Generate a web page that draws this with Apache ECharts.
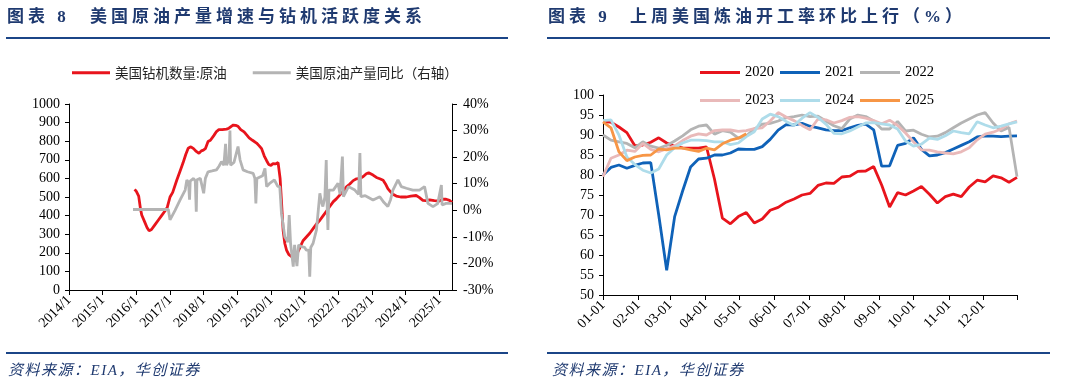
<!DOCTYPE html>
<html><head><meta charset="utf-8">
<script src="https://cdn.jsdelivr.net/npm/echarts@6/dist/echarts.min.js"></script>
<style>
html,body{margin:0;padding:0;background:#fff;width:1066px;height:384px;overflow:hidden;}
#chart{position:absolute;left:0;top:0;width:1066px;height:384px;}
.t{position:absolute;font-family:'Liberation Serif','Noto Sans CJK SC',serif;font-weight:bold;color:#1F3A70;font-size:17px;letter-spacing:4px;white-space:nowrap;line-height:20px;}
.rule{position:absolute;height:2px;background:#1B4587;}
.src{position:absolute;font-family:'Liberation Serif','Noto Sans CJK SC',serif;font-style:italic;color:#1F3A70;font-size:15px;letter-spacing:1.5px;white-space:nowrap;line-height:18px;}
</style></head><body>
<div id="chart"></div>
<div class="t" style="left:7px;top:7px">图表 8</div>
<div class="t" style="left:90px;top:7px">美国原油产量增速与钻机活跃度关系</div>
<div class="t" style="left:548px;top:7px">图表 9</div>
<div class="t" style="left:630px;top:7px">上周美国炼油开工率环比上行（%）</div>
<div class="rule" style="left:6px;top:37px;width:502px"></div>
<div class="rule" style="left:547px;top:37px;width:503px"></div>
<div class="rule" style="left:6px;top:352px;width:502px"></div>
<div class="rule" style="left:547px;top:352px;width:503px"></div>
<div class="src" style="left:8px;top:361px">资料来源：EIA，华创证券</div>
<div class="src" style="left:552px;top:361px">资料来源：EIA，华创证券</div>
<script>
// ---------- Chart 8 data ----------
const rigYears = [2015.95,2016.0,2016.07,2016.12,2016.16,2016.25,2016.32,2016.38,2016.45,2016.55,2016.65,2016.75,2016.85,2016.92,2017.0,2017.08,2017.2,2017.3,2017.39,2017.47,2017.54,2017.62,2017.7,2017.78,2017.86,2017.93,2017.99,2018.05,2018.13,2018.2,2018.3,2018.38,2018.45,2018.55,2018.68,2018.75,2018.82,2018.88,2018.95,2019.02,2019.1,2019.2,2019.27,2019.35,2019.45,2019.57,2019.65,2019.72,2019.8,2019.87,2019.93,2020.0,2020.06,2020.13,2020.21,2020.24,2020.27,2020.31,2020.36,2020.41,2020.46,2020.53,2020.61,2020.68,2020.76,2020.85,2020.95,2021.05,2021.15,2021.25,2021.35,2021.45,2021.55,2021.65,2021.75,2021.85,2021.94,2022.04,2022.14,2022.24,2022.34,2022.44,2022.54,2022.64,2022.74,2022.83,2022.9,2022.95,2023.03,2023.13,2023.23,2023.33,2023.4,2023.47,2023.55,2023.62,2023.72,2023.85,2024.02,2024.15,2024.31,2024.4,2024.51,2024.6,2024.71,2024.85,2025.0,2025.1,2025.2,2025.3,2025.375];
const rigCounts = [541,530,505,440,403,365,335,318,325,350,375,400,425,445,500,525,590,640,685,730,762,770,760,745,735,748,752,760,798,805,830,852,862,862,865,870,880,887,885,880,862,850,835,818,805,790,775,760,720,695,675,670,680,678,685,675,600,480,320,250,215,190,180,175,190,225,265,285,305,330,355,375,400,425,450,475,490,510,530,555,570,588,598,600,610,625,630,625,618,605,598,590,570,545,528,515,505,500,500,505,508,498,482,480,484,480,478,488,488,482,470];
const prodYears = [2015.9,2016.95,2017.0,2017.05,2017.15,2017.3,2017.45,2017.5,2017.55,2017.58,2017.6,2017.7,2017.75,2017.78,2017.8,2017.9,2017.95,2018.0,2018.05,2018.13,2018.25,2018.38,2018.45,2018.53,2018.6,2018.65,2018.68,2018.75,2018.78,2018.8,2018.9,2019.02,2019.08,2019.17,2019.3,2019.47,2019.52,2019.55,2019.58,2019.62,2019.75,2019.82,2019.87,2019.95,2020.1,2020.2,2020.26,2020.31,2020.41,2020.5,2020.54,2020.58,2020.66,2020.7,2020.74,2020.77,2020.82,2020.9,2021.0,2021.05,2021.12,2021.15,2021.18,2021.25,2021.35,2021.45,2021.5,2021.54,2021.6,2021.64,2021.66,2021.69,2021.72,2021.85,2021.99,2022.05,2022.12,2022.15,2022.3,2022.49,2022.6,2022.64,2022.67,2022.8,2023.03,2023.23,2023.35,2023.47,2023.55,2023.62,2023.77,2023.87,2024.02,2024.21,2024.41,2024.56,2024.66,2024.81,2024.95,2025.06,2025.08,2025.2,2025.375];
const prodYoY = [0.3,0.3,-3.6,-3.0,0,3.9,7.6,11.4,10.5,4,11,12,11,-0.5,11.5,12,11.5,6.4,12,14.5,14.8,15.2,16.5,18.3,17,25,17,19,30,17,18,24,19,15.2,14.5,13.9,12,2.6,12,12.6,13,15.8,8.9,10,11.4,9,8.9,-1.1,-10,-12,-1.8,-12.4,-21.2,-13,-12.4,-21,-13,-13.7,-14,-15,-15,-25,-14,-12.4,-7.4,6.4,3,1.4,5,18.9,5,-7.4,7.6,7.6,10.2,6,20.2,5.1,8.9,7.6,6,21.5,5.1,5.5,3.9,5.1,3,1.4,4,7.6,11.4,8.9,8.3,7.6,7.6,8.9,2.6,1.4,2.5,9.5,2,2.6,2.6];
const leftNames = ['美国钻机数量:原油','美国原油产量同比（右轴）'];

// ---------- Chart 9 data (weekly, week i = day 7*i of year) ----------
const yearNames = ['2020','2021','2022','2023','2024','2025'];
const y2020 = [93.3,93.2,92,90.6,87.3,87.5,88.2,89.3,88,87.2,86.8,86.7,86.7,87,79,69.2,67.8,69.6,70.6,68,69,71.2,71.9,73.2,74,75,75.4,77.4,78,77.9,79.5,79.7,80.9,81,82.1,77.5,72,75.6,75,76,77.1,75.2,73,74.6,75.2,74.6,77,78.7,78.3,79.8,79.3,78.2,79.4];
const y2021 = [80,81.9,82.5,81.7,82.4,83,83.1,70,56.2,69.6,76,82,84,84.2,85,85,85.5,86.5,86.4,86.4,87.1,88.9,91.2,92.6,92.5,92.9,92.2,91.8,91.3,91.1,91.1,91.8,92.4,92.7,91.3,82.2,82.3,87.4,87.9,89.3,86.4,84.8,85,85.6,86.5,87.4,88.3,89.5,89.8,89.7,89.6,89.7,89.8];
const y2022 = [90,88.7,88.3,87.9,86.8,88.3,87.2,86.7,87.4,88.5,89.8,91.3,92.2,92.5,90.2,91.1,90.7,89.2,89.8,91.5,92.7,92.9,93.5,94.3,94.6,95,94.6,94.7,93.5,92.3,91.6,94,95,94.6,93.5,91.5,91.5,93.4,91,91.2,90.2,89.5,89.7,90.6,91.8,93,94,95,95.6,93,91,91.9,79.6];
const y2023 = [79.6,84.2,85,86.2,85.9,87.9,86.4,85.8,86.6,87.3,88.6,89.7,90.3,90,91.1,91.25,91.25,90.9,91.1,91.6,91.8,93.5,95.6,94.5,93.6,92.4,91.3,94,93.8,93,93.6,94.4,94.6,94.2,93.6,92.8,93.7,92.4,90.5,88.3,86.3,86.2,85.8,85.5,85.3,85.8,86.8,88.8,90.2,90.7,91.5,92.8,93.5];
const y2024 = [93.6,93.8,90,84.5,82.6,81.2,80.5,81.5,85,86.8,88,88.7,88.7,88.6,88.3,88.3,87.6,88,89.6,90.8,94,95.2,94.6,93.4,92.4,94.2,95.6,94.4,92.7,90.4,90.3,91,92,93,93.1,92.8,92.5,91.5,88.5,87.2,87.7,89.2,88.9,89.8,91,90.6,90.3,93.3,92.5,91.8,92.2,92.8,93.3];
const y2025 = [93.3,91.8,85.8,83.6,84.5,84.9,85,86.5,86.3,86.7,86.7,86.3,85.9,86.7,86.3,87.8,88.7,89.2,90.3];
const yearColors = ['#E8141C','#0F62B8','#B4B4B4','#E9B9B9','#AEDCEA','#F79646'];

// day-of-year category labels (MM-DD)
const dayCats = [];
for (let i = 0; i < 365; i++) {
  const dt = new Date(Date.UTC(2021, 0, 1 + i));
  dayCats.push(String(dt.getUTCMonth() + 1).padStart(2, '0') + '-' + String(dt.getUTCDate()).padStart(2, '0'));
}
const isMonthStart = (i) => dayCats[i] && dayCats[i].endsWith('-01');

const serif = 'Liberation Serif';
const axisTxt = { fontFamily: serif, fontSize: 14, color: '#000' };
const blackLine = { show: true, lineStyle: { color: '#000', width: 1 } };

const zip = (xs, ys) => xs.map((x, i) => [x, ys[i]]);
const weekly = (arr) => arr.map((v, i) => [dayCats[i * 7], v]);
const yearData = [y2020, y2021, y2022, y2023, y2024, y2025];

const chart = echarts.init(document.getElementById('chart'), null, { renderer: 'canvas' });
chart.setOption({
  animation: false,
  grid: [
    { left: 69, top: 104, width: 383, height: 186 },
    { left: 603, top: 95, width: 414, height: 200 }
  ],
  legend: [
    { left: 67, top: 61, data: leftNames, icon: 'rect', itemWidth: 38, itemHeight: 3, itemGap: 26,
      textStyle: { fontFamily: 'Noto Sans CJK SC', fontSize: 13.5, color: '#222' } },
    { left: 695, top: 60, data: yearNames.slice(0, 3), icon: 'rect', itemWidth: 40, itemHeight: 3, itemGap: 6,
      textStyle: { fontFamily: serif, fontSize: 14.5, color: '#000' } },
    { left: 695, top: 88, data: yearNames.slice(3), icon: 'rect', itemWidth: 40, itemHeight: 3, itemGap: 6,
      textStyle: { fontFamily: serif, fontSize: 14.5, color: '#000' } }
  ],
  xAxis: [
    { type: 'value', gridIndex: 0, min: 2014, max: 2025.375, interval: 1,
      axisLine: blackLine, axisTick: { show: true, inside: false, length: 5, lineStyle: { color: '#000' } },
      splitLine: { show: false },
      axisLabel: Object.assign({ rotate: 45, margin: 8, showMaxLabel: false,
        formatter: (v) => Number.isInteger(v) ? v + '/1' : '' }, axisTxt) },
    { type: 'category', gridIndex: 1, data: dayCats, boundaryGap: false,
      axisLine: blackLine,
      axisTick: { show: true, length: 5, lineStyle: { color: '#000' }, interval: (i) => isMonthStart(i) || i === 364 },
      axisLabel: Object.assign({ rotate: 45, margin: 8, interval: (i) => isMonthStart(i) }, axisTxt) }
  ],
  yAxis: [
    { type: 'value', gridIndex: 0, min: 0, max: 1000, interval: 100,
      axisLine: blackLine, axisTick: { show: true, length: 4, lineStyle: { color: '#000' } },
      splitLine: { show: false }, axisLabel: Object.assign({ margin: 9, formatter: (v) => String(v) }, axisTxt) },
    { type: 'value', gridIndex: 0, position: 'right', min: -30, max: 40, interval: 10,
      axisLine: blackLine, axisTick: { show: true, length: 5, lineStyle: { color: '#000' } },
      splitLine: { show: false }, axisLabel: Object.assign({ margin: 11, formatter: '{value}%' }, axisTxt) },
    { type: 'value', gridIndex: 1, min: 50, max: 100, interval: 5,
      axisLine: blackLine, axisTick: { show: true, length: 4, lineStyle: { color: '#000' } },
      splitLine: { show: false }, axisLabel: Object.assign({ margin: 9 }, axisTxt) }
  ],
  series: [
    { name: leftNames[0], type: 'line', xAxisIndex: 0, yAxisIndex: 0, showSymbol: false,
      data: zip(rigYears, rigCounts), lineStyle: { color: '#E8141C', width: 2.8 }, itemStyle: { color: '#E8141C' } },
    { name: leftNames[1], type: 'line', xAxisIndex: 0, yAxisIndex: 1, showSymbol: false,
      data: zip(prodYears, prodYoY), lineStyle: { color: '#B4B4B4', width: 2.8 }, itemStyle: { color: '#B4B4B4' } }
  ].concat(yearNames.map((n, k) => ({
    name: n, type: 'line', xAxisIndex: 1, yAxisIndex: 2, showSymbol: false,
    data: weekly(yearData[k]),
    lineStyle: { color: yearColors[k], width: 2.8 }, itemStyle: { color: yearColors[k] }
  })))
});
</script>
</body></html>
